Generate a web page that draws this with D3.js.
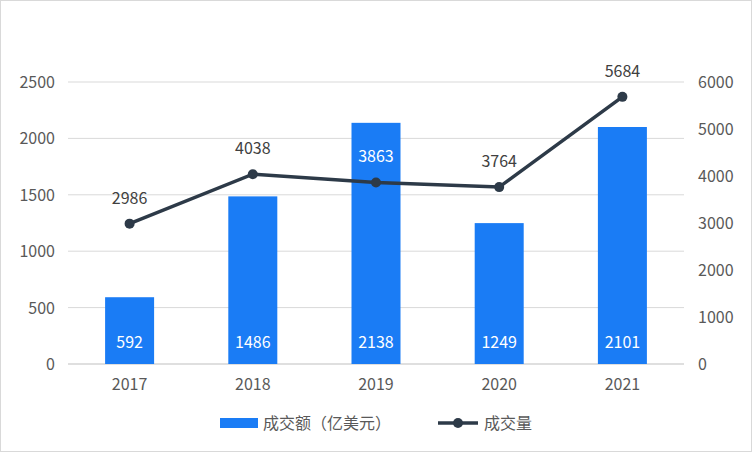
<!DOCTYPE html>
<html><head><meta charset="utf-8">
<script src="https://cdn.jsdelivr.net/npm/d3@7"></script>
<style>body{margin:0;background:#fff}text{font-family:"Noto Sans CJK SC","Liberation Sans",sans-serif}</style>
</head><body><svg id="chart" width="752" height="452"></svg>
<script>
// chart data
var years = ["2017", "2018", "2019", "2020", "2021"];
var amount = [592, 1486, 2138, 1249, 2101];
var volume = [2986, 4038, 3863, 3764, 5684];
var leftTicks = [0, 500, 1000, 1500, 2000, 2500];
var rightTicks = [0, 1000, 2000, 3000, 4000, 5000, 6000];

var svg = d3.select("#chart");
svg.append("rect").attr("x", 0.5).attr("y", 0.5).attr("width", 751).attr("height", 451)
  .attr("fill", "#fff").attr("stroke", "#d9d9d9");

var x = d3.scaleBand().domain(years).range([68, 684]);
var yL = d3.scaleLinear().domain([0, 2500]).range([364, 82]);
var yR = d3.scaleLinear().domain([0, 6000]).range([364, 82]);

// gridlines
svg.selectAll(".grid").data(leftTicks).enter().append("line")
  .attr("x1", 68).attr("x2", 684)
  .attr("y1", d => yL(d)).attr("y2", d => yL(d))
  .attr("stroke", d => d === 0 ? "#bfbfbf" : "#d9d9d9");

// axis labels
svg.selectAll(".lt").data(leftTicks).enter().append("text")
  .attr("x", 55).attr("y", d => yL(d) + 6).attr("text-anchor", "end")
  .attr("font-size", 16).attr("fill", "#595959").text(d => d);
svg.selectAll(".rt").data(rightTicks).enter().append("text")
  .attr("x", 698).attr("y", d => yR(d) + 6)
  .attr("font-size", 16).attr("fill", "#595959").text(d => d);
svg.selectAll(".xt").data(years).enter().append("text")
  .attr("x", d => x(d) + x.bandwidth() / 2).attr("y", 390).attr("text-anchor", "middle")
  .attr("font-size", 16).attr("fill", "#595959").text(d => d);

// bars
var bw = 49;
svg.selectAll(".bar").data(amount).enter().append("rect")
  .attr("x", (d, i) => x(years[i]) + x.bandwidth() / 2 - bw / 2)
  .attr("y", d => yL(d)).attr("width", bw).attr("height", d => 364 - yL(d))
  .attr("fill", "#1a7cf5");
svg.selectAll(".bl").data(amount).enter().append("text")
  .attr("x", (d, i) => x(years[i]) + x.bandwidth() / 2).attr("y", 348)
  .attr("text-anchor", "middle").attr("font-size", 16).attr("fill", "#fff").text(d => d);

// line
var line = d3.line().x((d, i) => x(years[i]) + x.bandwidth() / 2).y(d => yR(d));
svg.append("path").datum(volume).attr("d", line).attr("fill", "none")
  .attr("stroke", "#2d3a48").attr("stroke-width", 3.5);
svg.selectAll(".pt").data(volume).enter().append("circle")
  .attr("cx", (d, i) => x(years[i]) + x.bandwidth() / 2).attr("cy", d => yR(d))
  .attr("r", 5).attr("fill", "#2d3a48");
svg.selectAll(".pl").data(volume).enter().append("text")
  .attr("x", (d, i) => x(years[i]) + x.bandwidth() / 2).attr("y", d => yR(d) - 20)
  .attr("text-anchor", "middle").attr("font-size", 16)
  .attr("fill", (d, i) => i === 2 ? "#fff" : "#404040").text(d => d);

// legend
svg.append("rect").attr("x", 220).attr("y", 418).attr("width", 38).attr("height", 10).attr("fill", "#1a7cf5");
svg.append("text").attr("x", 263).attr("y", 429).attr("font-size", 16).attr("fill", "#595959").text("成交额（亿美元）");
svg.append("line").attr("x1", 438).attr("x2", 478).attr("y1", 423).attr("y2", 423)
  .attr("stroke", "#2d3a48").attr("stroke-width", 3.5);
svg.append("circle").attr("cx", 458).attr("cy", 423).attr("r", 5).attr("fill", "#2d3a48");
svg.append("text").attr("x", 484).attr("y", 429).attr("font-size", 16).attr("fill", "#595959").text("成交量");
</script></body></html>
